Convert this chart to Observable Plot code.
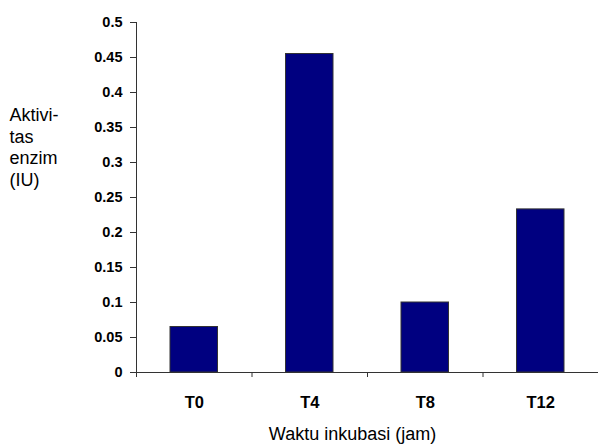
<!DOCTYPE html>
<html><head><meta charset="utf-8">
<script src="https://cdn.jsdelivr.net/npm/d3@7"></script>
<script src="https://cdn.jsdelivr.net/npm/@observablehq/plot@0.6"></script>
<style>body{margin:0;background:#fff}</style>
</head><body><div id="chart"></div>
<script>
const categories = ["T0", "T4", "T8", "T12"];
const values = [0.065, 0.455, 0.1, 0.233];
const yTicks = [0, 0.05, 0.1, 0.15, 0.2, 0.25, 0.3, 0.35, 0.4, 0.45, 0.5];
const yTickLabels = ["0", "0.05", "0.1", "0.15", "0.2", "0.25", "0.3", "0.35", "0.4", "0.45", "0.5"];
const xTitle = "Waktu inkubasi (jam)";
const yTitle = "Aktivi-\ntas\nenzim\n(IU)";

const data = categories.map((c, i) => ({c, i, v: values[i]}));
const idx = categories.map((c, i) => i);
const bounds = [-0.5, ...idx.map(i => i + 0.5)];

const chart = Plot.plot({
  width: 598, height: 444,
  marginLeft: 136, marginRight: 0, marginTop: 22, marginBottom: 72,
  style: {fontFamily: "'Liberation Sans', Arial, sans-serif", color: "#000", background: "#fff", overflow: "visible"},
  x: {type: "linear", domain: [-0.5, categories.length - 0.5]},
  y: {domain: [0, 0.5]},
  marks: [
    Plot.rectY(data, {x1: d => d.i - 0.5, x2: d => d.i + 0.5, y: "v", insetLeft: 34, insetRight: 34, fill: "#000080", stroke: "#333", strokeWidth: 1}),
    Plot.axisY({ticks: yTicks, tickFormat: () => "", tickSize: 6, label: null, stroke: "#333"}),
    Plot.text(yTicks, {y: d => d, text: (d, i) => yTickLabels[i], frameAnchor: "left", dx: -14, textAnchor: "end", lineAnchor: "middle", fontSize: 14.5, fontWeight: "bold"}),
    Plot.ruleX([-0.5], {stroke: "#333"}),
    Plot.ruleY([0], {stroke: "#333"}),
    Plot.axisX({ticks: bounds, tickFormat: () => "", tickSize: 5, label: null, stroke: "#333"}),
    Plot.text(idx, {x: i => i, text: i => categories[i], frameAnchor: "bottom", dy: 30, lineAnchor: "middle", fontSize: 16.5, fontWeight: "bold"}),
    Plot.text([xTitle], {text: d => d, frameAnchor: "bottom", dx: -15, dy: 62, lineAnchor: "middle", fontSize: 18}),
    Plot.text([yTitle], {text: d => d, frameAnchor: "left", dx: -127, dy: -51, textAnchor: "start", lineAnchor: "middle", lineHeight: 1.2, fontSize: 18})
  ]
});
document.getElementById("chart").appendChild(chart);
</script>
</body></html>
